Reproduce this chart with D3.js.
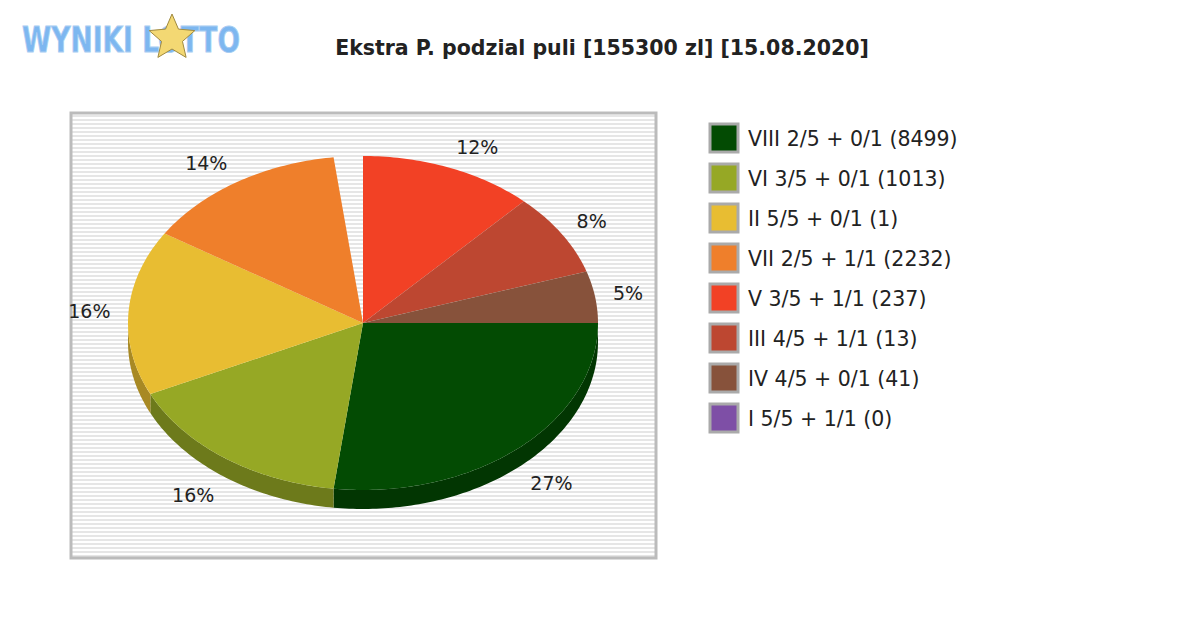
<!DOCTYPE html>
<html><head><meta charset="utf-8">
<script src="https://cdn.jsdelivr.net/npm/d3@7"></script>
<style>body{margin:0;background:#fff}text{font-family:"DejaVu Sans",sans-serif}</style>
</head><body>
<script>
/*** data ***/
const labels = ["VIII 2/5 + 0/1 (8499)", "VI 3/5 + 0/1 (1013)", "II 5/5 + 0/1 (1)", "VII 2/5 + 1/1 (2232)",
  "V 3/5 + 1/1 (237)", "III 4/5 + 1/1 (13)", "IV 4/5 + 0/1 (41)", "I 5/5 + 1/1 (0)"];
const percents = [27, 16, 16, 14, 12, 8, 5, 0];
const colors = ["#034b03", "#96a825", "#e8bd32", "#ef7f2b", "#f24125", "#bd4731", "#87523b", "#7e4fa6"];
const title = "Ekstra P. podzial puli [155300 zl] [15.08.2020]";

const W = 1200, H = 630;
const svg = d3.select("body").append("svg").attr("width", W).attr("height", H);

/*** logo ***/
const logo = svg.append("g");
logo.append("text").attr("x", 22).attr("y", 52).attr("font-size", 36).attr("font-weight", "bold")
  .attr("fill", "#7db7f0").attr("stroke", "#a9cdf2").attr("stroke-width", 1)
  .attr("textLength", 218).attr("lengthAdjust", "spacingAndGlyphs").text("WYNIKI LOTTO");
const star = d3.range(10).map(i => {
  const a = -Math.PI / 2 + i * Math.PI / 5, r = i % 2 ? 11 : 24;
  return [172 + r * Math.cos(a), 38 + r * Math.sin(a)];
});
logo.append("polygon").attr("points", star.join(" ")).attr("fill", "#f3d873").attr("stroke", "#a08a40");

/*** title ***/
svg.append("text").attr("x", 602).attr("y", 55).attr("text-anchor", "middle")
  .attr("font-size", 20.5).attr("font-weight", "bold").attr("fill", "#222").text(title);

/*** plot box ***/
const box = { x: 71, y: 113, w: 585, h: 445 };
svg.append("rect").attr("x", box.x).attr("y", box.y).attr("width", box.w).attr("height", box.h).attr("fill", "#fff");
svg.append("g").selectAll("rect").data(d3.range(box.y + 2, box.y + box.h - 2, 4)).join("rect")
  .attr("x", box.x).attr("y", d => d).attr("width", box.w).attr("height", 2).attr("fill", "#e6e6e6");
svg.append("rect").attr("x", box.x).attr("y", box.y).attr("width", box.w).attr("height", box.h)
  .attr("fill", "none").attr("stroke", "#bbb").attr("stroke-width", 3);

/*** 3d pie ***/
const cx = 363, cy = 323, rx = 235, ry = 167, depth = 19;
const total = 100, rest = total - d3.sum(percents);
const ang = d3.scaleLinear().domain([0, total]).range([0, 2 * Math.PI]);
let acc = 0;
const slices = percents.map((p, i) => {
  if (i === 4) acc += rest; // rounding remainder shows as a gap
  const s = { i, p, a0: ang(acc), a1: ang(acc + p) };
  acc += p;
  return s;
});
const pt = (a, dy = 0) => [cx + rx * Math.cos(a), cy + ry * Math.sin(a) + dy];
function arcPts(a0, a1, dy = 0) {
  const n = Math.max(2, Math.ceil((a1 - a0) * 60));
  return d3.range(n + 1).map(k => pt(a0 + (a1 - a0) * k / n, dy));
}
const line = d3.line();
const dark = c => d3.color(c).darker(0.9).formatHex();

// side walls (front half only)
slices.forEach(s => {
  const a0 = Math.max(s.a0, 0), a1 = Math.min(s.a1, Math.PI);
  if (a1 <= a0) return;
  const top = arcPts(a0, a1), bot = arcPts(a0, a1, depth).reverse();
  svg.append("path").attr("d", line(top.concat(bot)) + "Z").attr("fill", dark(colors[s.i]));
});
// tops
slices.filter(s => s.p > 0).forEach(s => {
  svg.append("path").attr("d", line([[cx, cy]].concat(arcPts(s.a0, s.a1))) + "Z")
    .attr("fill", colors[s.i]);
});
// labels
slices.filter(s => s.p > 0).forEach(s => {
  const m = (s.a0 + s.a1) / 2, c = Math.cos(m), sn = Math.sin(m);
  const x = cx + (rx + 18) * c, y = cy + (ry + 22) * sn + (sn > 0 ? depth : 0);
  svg.append("text").attr("x", x).attr("y", y).attr("dy", "0.35em")
    .attr("text-anchor", c > 0.2 ? "start" : c < -0.2 ? "end" : "middle")
    .attr("font-size", 19).attr("fill", "#222").text(s.p + "%");
});

/*** legend ***/
const lg = svg.append("g").selectAll("g").data(labels).join("g")
  .attr("transform", (d, i) => `translate(710,${124 + i * 40})`);
lg.append("rect").attr("width", 28).attr("height", 28).attr("fill", (d, i) => colors[i])
  .attr("stroke", "#aaa").attr("stroke-width", 3);
lg.append("text").attr("x", 38).attr("y", 15).attr("dy", "0.35em").attr("font-size", 20.5)
  .attr("fill", "#222").text(d => d);
</script>
</body></html>
